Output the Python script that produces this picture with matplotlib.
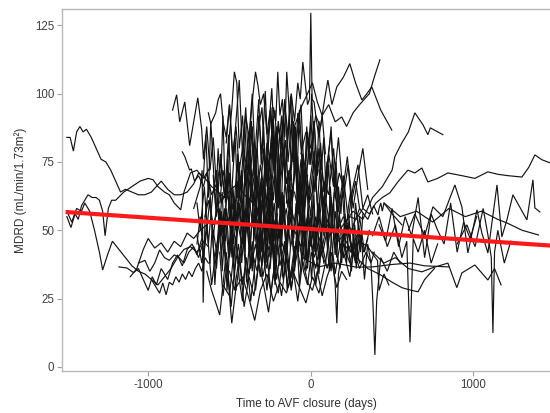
import matplotlib
matplotlib.use("Agg")
import matplotlib.pyplot as plt

# ---------------- data (days relative to AVF closure, MDRD) ----------------
p01_x = [-1500,-1480,-1460,-1440,-1420,-1400,-1380,-1350,-1320,-1290,-1260,-1230,-1200,-1170,-1140,-1100,-1060,-1020,-980,-950,-920,-880,-840,-800,-760,-720,-690,-650,-610,-570,-530,-490,-450,-410,-370,-330]
p01_y = [84,84,79,86,88,86,87,84,80,76,75,72,68,64,65,64,63,63,64,66,68,65,63,63,64,67,71,69,66,64,62,65,67,63,61,58]
p02_x = [-1500,-1475,-1450,-1430,-1410,-1390,-1370,-1345,-1320,-1300,-1280,-1265,-1245,-1225,-1200,-1150,-1100,-1050,-1000,-970,-940,-900,-870,-840,-800,-780,-740,-700,-660,-620]
p02_y = [55,51,56,54,59,61,63,62,62,61,57,48,58,61,61,64,66,68,69,68.5,66,64,63,60,57.5,64,71,72,69,73]
p03_x = [-1500,-1470,-1440,-1410,-1390,-1360,-1330,-1300,-1280,-1250,-1220,-1180,-1140,-1100,-1060,-1020,-980,-940,-900,-860,-820,-780,-740,-700,-660]
p03_y = [57,53,58,57,60,57,50,42,35.5,41,46,43,40,37,35,34,32,30,33,36,40,43,44,42,46]
p04_x = [-1180,-1130,-1090,-1060,-1030,-1000,-975,-950,-920,-880,-850,-820,-790,-760,-730,-700,-670]
p04_y = [36.6,36.2,34.5,36,32,28,33,30,36,32,38,41,37,43,45,41,47]
p05_x = [-1110,-1070,-1030,-1000,-960,-920,-880,-840,-800,-760,-720,-680,-640]
p05_y = [33,36,43,47,43.5,45.4,42,46,44,49,47,50,52]
p06_x = [-1060,-1020,-990,-960,-930,-900,-870,-840,-810,-780,-750,-720,-690,-660,-630]
p06_y = [38,39,35,38,42.8,40,39,41,40,38,42,44,40,46,44]
p07_x = [-980,-950,-930,-910,-890,-870,-850,-830,-810,-790,-770,-750,-730,-710,-690,-670,-650,-630]
p07_y = [32,29,27,30.7,26.4,31,30,33,31,34,32,35,33,36,38,35,40,38]
p08_x = [-720,-700,-680,-668,-662,-650,-630,-600,-570,-540,-510,-480]
p08_y = [58,62,66,72,23.5,55,61,52,58,49,55,47]
p09_x = [-850,-825,-806,-775,-745,-695,-671,-660,-640,-620,-600,-580,-555,-530,-505,-480]
p09_y = [94,99.6,89.7,97,81,98.5,87,76,88,72,84,66,75,62,70,58]
p10_x = [-790,-775,-745,-735,-715,-690,-660,-640,-610,-580,-550,-520,-490,-460]
p10_y = [78.7,77,72,72.5,68,70,66,71,63,67,60,64,57,61]
p11_x = [-630,-615,-600,-585,-570,-555,-540,-520,-500,-480,-460,-440,-420,-400,-380,-360,-340]
p11_y = [93,89,91,93,97.7,100,90,84,96,78,88,72,80,66,74,60,68]
p12_x = [-560,-540,-520,-500,-485,-470,-455,-440,-420,-400,-380,-360,-340,-320,-300,-280,-260,-240]
p12_y = [60,72,65,85,95,108,104,80,92,70,86,64,75,58,68,52,60,48]
p13_x = [-470,-450,-430,-410,-390,-370,-355,-340,-325,-310,-290,-270,-250,-230,-210,-190,-170,-150]
p13_y = [55,68,60,78,72,90,100,108,103,96,100,85,94,76,88,70,80,62]
p14_x = [-330,-310,-290,-270,-250,-230,-215,-203,-190,-175,-160,-148,-135,-120,-100,-80,-60,-40,-20]
p14_y = [62,74,66,82,76,95,90,108,92,98,84,108,96,72,88,64,76,58,70]
p15_x = [-260,-240,-220,-200,-180,-160,-140,-120,-100,-80,-65,-49,-35,-20,-8,0,8,20,35,50,70,90]
p15_y = [70,82,75,88,80,96,85,100,90,104,98,111.6,104,96,98,129.6,98,97,90,84,92,78]
p16_x = [-60,-30,0,30,60,85,105,130,160,200,240,275,314,345,375,430,498]
p16_y = [78,86,80,92,88,98,105,96,102.5,106,111,104,97.7,100,102.5,94,86.7]
p17_x = [-100,-60,-20,10,40,70,110,150,190,220,260,300,330,360,390,425]
p17_y = [88,95,100,104,97,92,96,89.7,91.5,88,93,96,98,100,106,112.4]
p18_x = [200,240,280,320,360,400,440,486,535,597,640,683,720,780,843,929,1009,1089,1150,1212,1298,1340,1378,1422,1471]
p18_y = [52,55,54,58,56,60,62,63.7,67.7,72,71,72.8,67.7,69,71,70,69,71.4,70.5,70,69.5,73,77.6,75.8,74.7]
p19_x = [150,200,260,320,380,440,500,517,560,600,640,690,720,735,812]
p19_y = [48,52,57,54,62,66,72,77,82,86,93,88.6,85,87.5,85]
p20_x = [600,640,700,751,812,886,929,966,1022,1052,1089,1145,1175,1206,1243,1329,1366,1378,1409]
p20_y = [50,56,48,58.6,55,66.6,58.6,41.7,57.5,49,41.7,66.6,47.6,53.8,63,53.8,68.5,58.2,56.7]
p21_x = [450,550,650,750,850,950,1050,1150,1206,1300,1400]
p21_y = [60,55,57,53,58,55,57,54,52.7,50,48.3]
p22_x = [380,450,520,600,683,745,843,898,929,1009,1089,1130,1170]
p22_y = [42,38,40,36,34.8,36.2,38,29,34.4,37.3,31.8,36,30]
p23_x = [900,960,1010,1060,1090,1110,1120,1130,1150,1190,1230]
p23_y = [45,52,44,58,48,40,12.4,42,50,38,46]
p24_x = [380,420,470,520,560,590,610,630,660,700,740,780]
p24_y = [48,55,44,52,40,46,9,47,42,50,38,45]
p25_x = [200,250,300,340,370,383,394,405,430,470,510,550]
p25_y = [40,45,36,42,38,22,4.4,24,40,35,42,38]
p26_x = [-100,-60,-20,20,60,100,130,150,160,170,200,240,280]
p26_y = [50,44,55,40,48,36,42,30,16,34,45,38,48]
p27_x = [200,280,350,420,500,560,620,660,700,760]
p27_y = [45,40,36,34,31,29,28,27.5,32,36]
p28_x = [-50,50,150,280,380,500,610,700,850]
p28_y = [40,36.6,38,36.5,36.6,37.5,38,37,36.6]

c01_x = [-700,-670,-640,-610,-580,-550,-520,-490,-460,-430,-400,-370,-340,-310,-280,-250,-220,-190,-160,-130,-100]
c01_y = [48,38,52,30,44,55,35,47,28,42,58,36,45,33,50,40,54,37,46,31,44]
c02_x = [-650,-625,-600,-575,-550,-525,-500,-475,-450,-425,-400,-375,-350,-325,-300,-275,-250,-225,-200,-175,-150,-125,-100,-75,-50]
c02_y = [55,68,47,62,40,58,71,45,60,52,74,43,63,50,66,38,57,70,48,61,44,59,53,67,50]
c03_x = [-600,-580,-555,-530,-505,-480,-455,-430,-405,-380,-355,-330,-305,-280,-255,-230,-205,-180,-155,-130,-105,-80,-55,-30,-5,20]
c03_y = [70,55,78,62,85,50,74,66,88,58,72,80,54,76,63,90,60,71,83,57,68,77,52,73,61,66]
c04_x = [-560,-540,-515,-490,-470,-445,-420,-395,-370,-345,-320,-295,-270,-245,-220,-195,-170,-145,-120,-95,-70,-45,-20,5,30,55]
c04_y = [42,26,38,22,35,45,30,40,24,36,48,33,41,27,39,50,32,43,29,38,46,35,30,42,36,44]
c05_x = [-450,-425,-400,-380,-355,-330,-305,-280,-255,-230,-205,-180,-155,-130,-105,-80,-55,-30,-5,20,45,70,95,120,145,170]
c05_y = [58,72,49,65,82,55,69,47,75,61,86,52,70,64,90,56,74,48,68,79,55,71,60,50,64,57]
c06_x = [-420,-400,-380,-360,-340,-320,-300,-280,-260,-240,-220,-200,-180,-160,-140,-120,-100,-80,-60,-40,-20,0,20,40]
c06_y = [80,95,70,88,66,92,78,101,72,86,94,68,83,98,75,89,70,93,80,65,86,74,90,72]
c07_x = [-350,-325,-300,-275,-250,-225,-200,-175,-150,-125,-100,-75,-50,-25,0,25,50,75,100,125,150,175,200,225,250]
c07_y = [52,40,61,46,57,35,50,64,42,55,38,60,48,66,44,53,39,58,47,62,41,55,46,51,43]
c08_x = [-500,-470,-440,-410,-380,-350,-320,-290,-260,-230,-200,-170,-140,-110,-80,-50,-20,10,40,70,100,130,160,190,220]
c08_y = [35,28,40,22,33,26,38,30,20,34,27,41,29,36,24,39,31,28,35,26,33,38,29,35,32]
c09_x = [-250,-225,-200,-175,-150,-125,-100,-75,-50,-25,0,25,50,75,100,125,150,175,200,225,250,275,300]
c09_y = [62,75,58,82,67,73,85,60,78,70,92,64,80,58,74,86,62,71,66,77,60,68,58]
c10_x = [-150,-125,-100,-75,-50,-25,0,25,50,75,100,125,150,175,200,225,250,275,300,325,350]
c10_y = [47,58,40,52,63,38,55,45,60,42,50,35,57,46,40,52,44,38,49,42,47]
c11_x = [-700,-680,-655,-630,-605,-580,-555,-530,-505,-480,-455,-430,-405,-380,-355,-330,-305,-280,-255,-230,-205]
c11_y = [60,50,66,45,62,72,48,58,40,65,54,70,46,62,51,68,43,59,64,49,56]
c12_x = [-520,-500,-480,-460,-440,-420,-400,-380,-360,-340,-320,-300,-280,-260,-240,-220,-200,-180]
c12_y = [82,96,75,90,105,78,92,84,100,73,88,95,70,86,102,77,90,80]
c13_x = [-300,-270,-240,-210,-180,-150,-120,-90,-60,-30,0,30,60,90,120,150,180,210,240,270,300]
c13_y = [44,36,50,32,46,40,28,44,52,35,47,30,42,38,50,34,45,40,33,46,38]
c14_x = [-100,-70,-40,-10,20,50,80,110,140,170,200,230,260,290,320,350,380]
c14_y = [64,55,72,60,76,52,68,63,80,57,70,54,66,74,58,63,56]
c15_x = [-600,-575,-550,-525,-500,-475,-450,-425,-400,-375,-350,-325,-300,-275,-250,-225,-200,-175,-150,-125,-100,-75,-50,-25,0]
c15_y = [50,40,57,46,62,38,53,45,58,42,64,49,37,55,47,60,41,52,58,44,50,62,39,54,47]
c16_x = [-640,-610,-580,-560,-540,-500,-486,-460,-420,-380,-345,-310,-270,-230,-190,-150,-110,-70,-30,10,50,90]
c16_y = [35,28,22.7,19,30,26,16,29,33,25,17,28,34,24,31,27,35,29,23.4,33,27,38]
c17_x = [0,30,60,90,120,150,180,210,240,270,300,330,360]
c17_y = [46,55,40,50,58,44,36,52,47,40,55,42,50]
c18_x = [50,80,110,140,170,200,230,260,290,320,350]
c18_y = [72,60,78,66,84,62,74,58,70,80,65]
c19_x = [-200,-180,-160,-140,-120,-100,-80,-60,-40,-20,0,20,40,60,80,100]
c19_y = [78,92,70,86,100,74,88,96,68,84,76,90,70,82,64,75]
c20_x = [-450,-420,-390,-360,-330,-300,-270,-240,-210,-180,-150,-120,-90,-60]
c20_y = [38,48,30,42,35,50,28,44,37,26,40,33,46,35]

d01_x = [-560,-545,-530,-515,-500,-485,-470,-455,-440,-425,-410,-395,-380,-365,-350,-335,-320,-305,-290,-275,-260,-245,-230]
d01_y = [52,64,45,70,55,40,62,48,75,58,44,66,50,72,46,60,38,57,68,49,63,42,55]
d02_x = [-480,-465,-450,-435,-420,-405,-390,-375,-360,-345,-330,-315,-300,-285,-270,-255,-240,-225,-210,-195,-180,-165,-150,-135,-120]
d02_y = [66,50,78,60,45,72,55,82,61,48,70,57,42,65,76,52,68,46,60,74,50,63,44,58,67]
d03_x = [-300,-285,-270,-255,-240,-225,-210,-195,-180,-165,-150,-135,-120,-105,-90,-75,-60,-45,-30,-15,0,15,30,45,60]
d03_y = [45,58,40,62,50,35,55,68,44,59,38,52,65,47,60,42,70,51,39,58,46,63,41,55,48]
d04_x = [-150,-135,-120,-105,-90,-75,-60,-45,-30,-15,0,15,30,45,60,75,90,105,120,135,150,165,180,195,210]
d04_y = [60,72,54,68,80,57,66,48,74,62,55,70,45,63,76,52,60,44,66,53,71,49,58,64,50]
d05_x = [-50,-35,-20,-5,10,25,40,55,70,85,100,115,130,145,160,175,190,205,220,235,250,265,280,295,310]
d05_y = [40,52,36,48,58,42,55,38,50,62,45,35,53,47,40,57,44,50,38,55,42,48,36,52,45]
d06_x = [-380,-365,-350,-335,-320,-305,-290,-275,-260,-245,-230,-215,-200,-185,-170,-155,-140,-125,-110,-95,-80]
d06_y = [76,90,70,85,98,74,88,66,82,95,72,86,64,80,92,70,84,99,75,88,68]
d07_x = [-660,-645,-630,-615,-600,-585,-570,-555,-540,-525,-510,-495,-480,-465,-450]
d07_y = [70,85,62,90,74,58,80,66,92,60,76,54,70,84,62]
d08_x = [-620,-605,-590,-575,-560,-545,-530,-515,-500,-485,-470,-455,-440,-425,-410,-395,-380]
d08_y = [38,52,30,45,58,35,48,28,42,55,33,46,60,38,50,31,44]
d09_x = [-250,-235,-220,-205,-190,-175,-160,-145,-130,-115,-100,-85,-70,-55,-40,-25,-10,5,20,35,50,65,80]
d09_y = [36,48,30,44,55,33,46,28,40,52,35,47,30,42,56,38,45,32,48,40,34,46,38]
d10_x = [50,65,80,95,110,125,140,155,170,185,200,215,230,245,260,275,290,305,320]
d10_y = [55,68,48,62,74,52,60,45,66,56,70,48,58,64,46,60,52,42,56]
d11_x = [-420,-405,-390,-375,-360,-345,-330,-315,-300,-285,-270,-255,-240,-225,-210,-195,-180]
d11_y = [55,42,60,48,35,58,44,62,50,38,56,45,64,40,53,47,58]
d12_x = [-100,-85,-70,-55,-40,-25,-10,5,20,35,50,65,80,95,110,125,140,155,170]
d12_y = [85,70,94,78,66,88,74,100,80,68,90,72,84,62,78,88,66,75,60]
d13_x = [-540,-520,-500,-480,-460,-440,-420,-400,-380,-360,-340,-320,-300]
d13_y = [30,42,26,38,48,32,24,40,34,46,28,38,44]
d14_x = [150,170,190,210,230,250,270,290,310,330,350,370,390]
d14_y = [42,50,38,56,44,35,52,40,48,32,45,38,42]
d15_x = [-350,-335,-320,-305,-290,-275,-260,-245,-230,-215,-200,-185,-170,-155,-140,-125,-110,-95,-80,-65,-50]
d15_y = [62,75,56,68,80,58,72,64,85,60,70,52,78,66,58,74,62,82,56,70,60]
d16_x = [-700,-680,-660,-640,-620,-600,-580,-560,-540,-520,-500,-480]
d16_y = [45,55,40,50,62,44,36,52,46,58,40,50]

r01_x = [100,150,200,250,300,350,387,413,420,430,440,450,500,560]
r01_y = [52,48,55,50,58,54,59,55.6,58,60,57,60,56,52]
r02_x = [150,200,250,300,350,377,397,410,420,450,480]
r02_y = [45,48,42,46,44,41.7,40,39,28,34,30]
r03_x = [420,460,500,540,580,620,660,700,740,780,820,860,900,940,980,1020]
r03_y = [52,46,58,44,55,48,62,40,56,50,45,60,42,53,47,55]

# overall linear trend (red)
trend_x = [-1508, 1500]
trend_y = [56.7, 44.3]

series = [
    (p01_x, p01_y), (p02_x, p02_y), (p03_x, p03_y), (p04_x, p04_y), (p05_x, p05_y),
    (p06_x, p06_y), (p07_x, p07_y), (p08_x, p08_y), (p09_x, p09_y), (p10_x, p10_y),
    (p11_x, p11_y), (p12_x, p12_y), (p13_x, p13_y), (p14_x, p14_y), (p15_x, p15_y),
    (p16_x, p16_y), (p17_x, p17_y), (p18_x, p18_y), (p19_x, p19_y), (p20_x, p20_y),
    (p21_x, p21_y), (p22_x, p22_y), (p23_x, p23_y), (p24_x, p24_y), (p25_x, p25_y),
    (p26_x, p26_y), (p27_x, p27_y), (p28_x, p28_y),
    (c01_x, c01_y), (c02_x, c02_y), (c03_x, c03_y), (c04_x, c04_y), (c05_x, c05_y),
    (c06_x, c06_y), (c07_x, c07_y), (c08_x, c08_y), (c09_x, c09_y), (c10_x, c10_y),
    (c11_x, c11_y), (c12_x, c12_y), (c13_x, c13_y), (c14_x, c14_y), (c15_x, c15_y),
    (c16_x, c16_y), (c17_x, c17_y), (c18_x, c18_y), (c19_x, c19_y), (c20_x, c20_y),
    (d01_x, d01_y), (d02_x, d02_y), (d03_x, d03_y), (d04_x, d04_y), (d05_x, d05_y),
    (d06_x, d06_y), (d07_x, d07_y), (d08_x, d08_y), (d09_x, d09_y), (d10_x, d10_y),
    (d11_x, d11_y), (d12_x, d12_y), (d13_x, d13_y), (d14_x, d14_y), (d15_x, d15_y),
    (d16_x, d16_y),
    (r01_x, r01_y), (r02_x, r02_y), (r03_x, r03_y),
]

x_ticks = [-1000, 0, 1000]
y_ticks = [0, 25, 50, 75, 100, 125]

# ---------------- drawing ----------------
plt.rcParams['font.family'] = ['Liberation Sans', 'DejaVu Sans']
fig = plt.figure(figsize=(5.5, 4.13), dpi=100)
ax = fig.add_axes([62/550, 1 - 371/413, 1 - 62/550, (371 - 9)/413])

for sx, sy in series:
    ax.plot(sx, sy, color='#141414', lw=0.85, solid_joinstyle='miter')

ax.plot(trend_x, trend_y, color='#ff1a1a', lw=3.0, solid_capstyle='butt')

ax.set_xlim(-1530, 1471)
ax.set_ylim(-1.5, 131)
ax.set_xticks(x_ticks)
ax.set_yticks(y_ticks)
ax.set_xticklabels([str(v) for v in x_ticks])
ax.set_yticklabels([str(v) for v in y_ticks])

for side in ['left', 'bottom', 'top']:
    ax.spines[side].set_color('#b8b8b8')
    ax.spines[side].set_linewidth(1.0)
ax.spines['right'].set_visible(False)
ax.tick_params(axis='both', colors='#a0a0a0', labelcolor='#404040', labelsize=8.3,
               length=3.5, width=0.8, direction='out', pad=2)

ax.set_xlabel('Time to AVF closure (days)', fontsize=8.5, color='#303030', labelpad=5)
ax.set_ylabel('MDRD (mL/min/1.73m²)', fontsize=8.5, color='#303030', labelpad=6)

fig.savefig('out.png', dpi=100)
